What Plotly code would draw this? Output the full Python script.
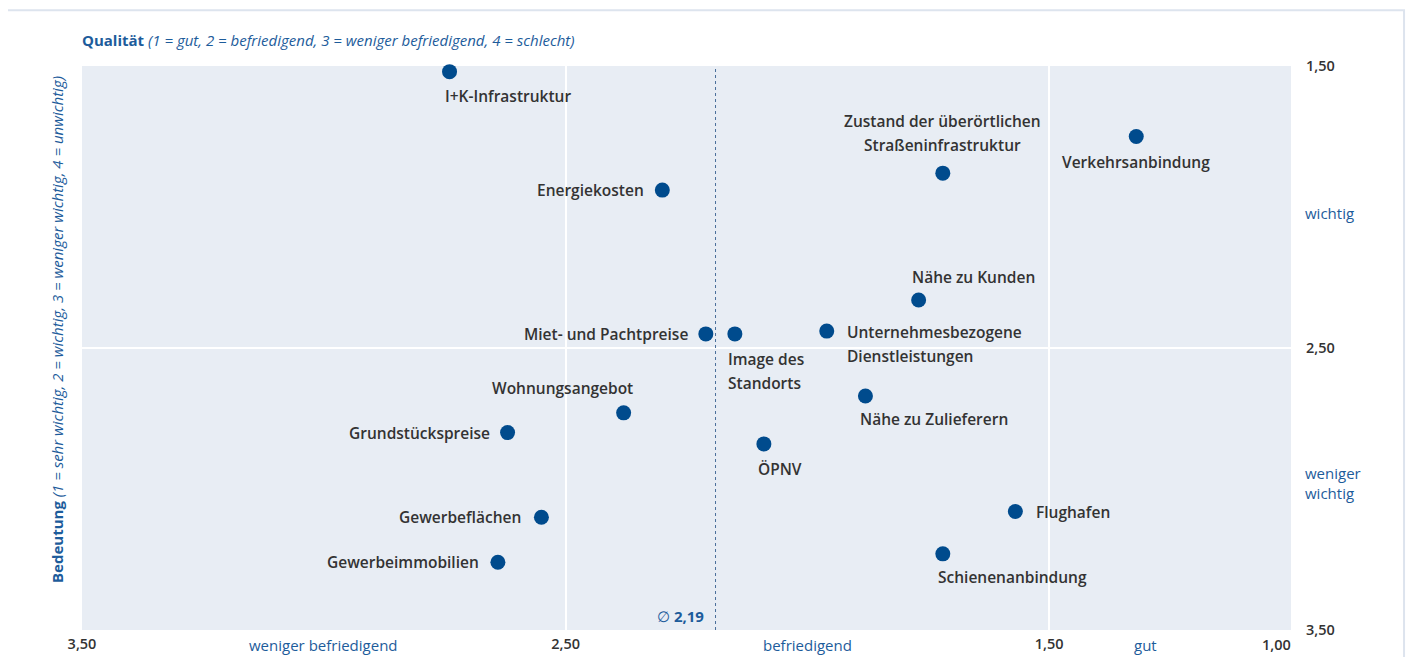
import plotly.graph_objects as go

# Data
labels = ["I+K-Infrastruktur", "Verkehrsanbindung", "Zustand der überörtlichen<br>Straßeninfrastruktur",
          "Energiekosten", "Nähe zu Kunden", "Miet- und Pachtpreise", "Image des<br>Standorts",
          "Unternehmesbezogene<br>Dienstleistungen", "Nähe zu Zulieferern", "Wohnungsangebot",
          "Grundstückspreise", "ÖPNV", "Gewerbeflächen", "Flughafen", "Gewerbeimmobilien",
          "Schienenanbindung"]
qualitaet = [2.74, 1.32, 1.72, 2.30, 1.77, 2.21, 2.15, 1.96, 1.88, 2.38, 2.62, 2.09, 2.55, 1.57, 2.64, 1.72]
bedeutung = [1.52, 1.75, 1.88, 1.94, 2.33, 2.45, 2.45, 2.44, 2.67, 2.73, 2.80, 2.84, 3.10, 3.08, 3.26, 3.23]
mean_quality = 2.19

x_tickvals = [3.5, 2.5, 1.5]
x_ticktext = ["3,50", "2,50", "1,50"]
x_end_val = 1.0
x_end_text = "1,00"
y_tickvals = [1.5, 2.5, 3.5]
y_ticktext = ["1,50", "2,50", "3,50"]
x_cat_labels = ["weniger befriedigend", "befriedigend", "gut"]
x_cat_pos = [3.0, 2.0, 1.3]
y_cat_labels = ["wichtig", "weniger<br>wichtig"]
y_cat_pos = [2.02, 2.98]

# label placement: (xanchor, xshift, yshift of first line)
placement = [
    ("left", -7, -24),
    ("center", 0, -25),
    ("center", 0, 52),
    ("right", -16, 0),
    ("left", -9, 23),
    ("right", -16, 0),
    ("left", -9, -25),
    ("left", 18, -1),
    ("left", -7, -23),
    ("right", 11, 25),
    ("right", -16, 0),
    ("left", -8, -25),
    ("right", -18, 0),
    ("left", 19, 0),
    ("right", -17, 0),
    ("left", -7, -23),
]
LINE_GAP = 24

BLUE = "#004b8d"
TBLUE = "#1d5c9b"
TXT = "#333333"
FONT = "Open Sans"

fig = go.Figure()
fig.add_trace(go.Scatter(
    x=qualitaet, y=bedeutung, mode="markers",
    marker=dict(size=15, color=BLUE, line=dict(width=0)),
    hoverinfo="skip", showlegend=False, cliponaxis=False,
))

annotations = []
for lab, xv, yv, (xa, xs, ys) in zip(labels, qualitaet, bedeutung, placement):
    for i, line in enumerate(lab.split("<br>")):
        annotations.append(dict(
            x=xv, y=yv, xref="x", yref="y", text=line, showarrow=False,
            xanchor=xa, yanchor="middle", xshift=xs, yshift=ys - i * LINE_GAP,
            font=dict(family=FONT, size=15.5, color=TXT, weight=600),
        ))

# mean label
annotations.append(dict(
    x=mean_quality, y=3.5, xref="x", yref="y", text="∅ <b>2,19</b>", showarrow=False,
    xanchor="right", yanchor="bottom", xshift=-10, yshift=2,
    font=dict(family=FONT, size=15, color=TBLUE),
))

# end tick label on x (right-aligned at plot edge)
annotations.append(dict(
    x=x_end_val, y=0, xref="x", yref="paper", text=x_end_text, showarrow=False,
    xanchor="right", yanchor="top", yshift=-3, xshift=2,
    font=dict(family=FONT, size=14.5, color=TXT, weight=600),
))

# x category labels
for t, p in zip(x_cat_labels, x_cat_pos):
    annotations.append(dict(
        x=p, y=0, xref="x", yref="paper", text=t, showarrow=False,
        xanchor="center", yanchor="top", yshift=-3,
        font=dict(family=FONT, size=15, color=TBLUE),
    ))

# y category labels (right)
for t, p in zip(y_cat_labels, y_cat_pos):
    annotations.append(dict(
        x=1, y=p, xref="paper", yref="y", text=t, showarrow=False,
        xanchor="left", yanchor="middle", xshift=12, align="left",
        font=dict(family=FONT, size=15, color=TBLUE),
    ))

# titles
annotations.append(dict(
    x=0, y=1, xref="paper", yref="paper", text="<b>Qualität</b> <i>(1 = gut, 2 = befriedigend, 3 = weniger befriedigend, 4 = schlecht)</i>",
    showarrow=False, xanchor="left", yanchor="bottom", yshift=14, xshift=-2,
    font=dict(family=FONT, size=15, color=TBLUE),
))
annotations.append(dict(
    x=0, y=0.5, xref="paper", yref="paper", text="<b>Bedeutung</b> <i>(1 = sehr wichtig, 2 = wichtig, 3 = weniger wichtig, 4 = unwichtig)</i>",
    showarrow=False, xanchor="right", yanchor="middle", xshift=-13, yshift=18, textangle=-90,
    font=dict(family=FONT, size=15, color=TBLUE),
))

fig.update_layout(
    width=1414, height=657,
    margin=dict(l=74, r=131, t=58, b=35),
    paper_bgcolor="white", plot_bgcolor="#e8edf4",
    annotations=annotations,
    font=dict(family=FONT),
    xaxis=dict(range=[3.5, 1.0], tickvals=x_tickvals, ticktext=x_ticktext,
               showgrid=True, gridcolor="white", gridwidth=1.5, zeroline=False,
               showline=False, ticks="", tickfont=dict(family=FONT, size=14.5, color=TXT, weight=600),
               ticklabelstandoff=3),
    yaxis=dict(range=[3.5, 1.5], tickvals=y_tickvals, ticktext=y_ticktext, side="right",
               showgrid=True, gridcolor="white", gridwidth=1.5, zeroline=False,
               showline=False, ticks="", tickfont=dict(family=FONT, size=14.5, color=TXT, weight=600),
               ticklabelstandoff=14),
    shapes=[
        dict(type="line", xref="x", yref="paper", x0=mean_quality, x1=mean_quality, y0=0, y1=1,
             line=dict(color="#4a6e9a", width=1, dash="3px,3px")),
        dict(type="rect", xref="paper", yref="paper", x0=-0.063, x1=1.0935, y0=-0.2, y1=1.099,
             line=dict(color="#dde4ee", width=2), fillcolor="rgba(0,0,0,0)", layer="below"),
    ],
)

fig.write_html("out.html")
